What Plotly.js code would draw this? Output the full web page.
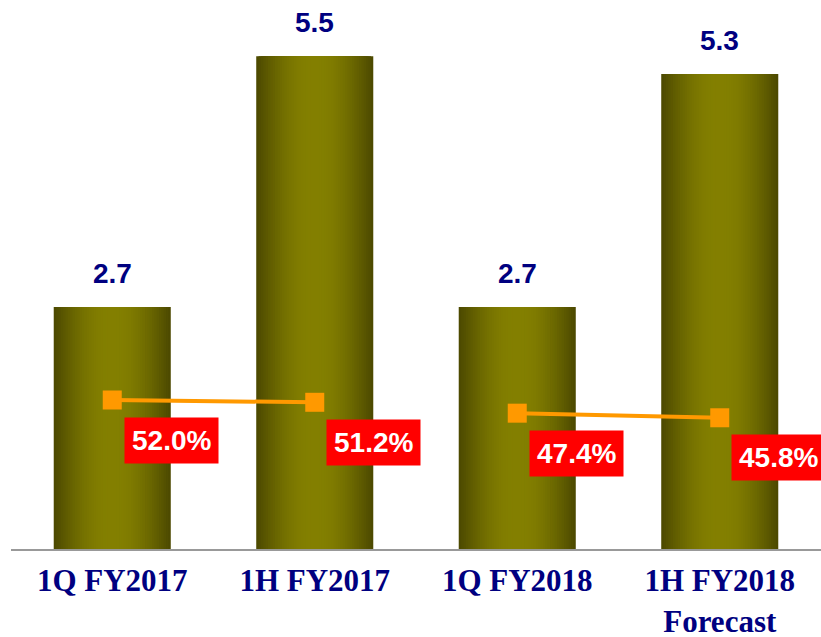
<!DOCTYPE html>
<html><head><meta charset="utf-8">
<script src="https://cdn.plot.ly/plotly-3.0.1.min.js"></script>
<style>html,body{margin:0;padding:0;background:#fff}#c{width:821px;height:637px}</style>
</head><body><div id="c"></div>
<script>
const categories = ["1Q FY2017", "1H FY2017", "1Q FY2018", "1H FY2018<br>Forecast"];
const values = [2.7, 5.5, 2.7, 5.3];
const ratios = [52.0, 51.2, 47.4, 45.8];
const valueLabels = ["2.7", "5.5", "2.7", "5.3"];
const ratioLabels = ["52.0%", "51.2%", "47.4%", "45.8%"];

// cylinder-like shading (style only): overlay bars of decreasing width, lighter toward centre
const fullWidth = 0.578, nLayers = 24;
const dark = [77, 74, 0], light = [131, 127, 0];
const traces = [];
for (let k = 0; k < nLayers; k++) {
  const f = k / (nLayers - 1);
  const w = fullWidth * (1 - f * 0.92);
  const t = Math.sin(f * Math.PI / 2);
  const col = 'rgb(' + dark.map((d, j) => Math.round(d + (light[j] - d) * t)).join(',') + ')';
  traces.push({type: 'bar', x: categories, y: values, width: w,
    marker: {color: col, line: {width: 0}}, hoverinfo: 'skip', showlegend: false});
}
const lineStyle = {color: '#ff9900', width: 4};
const markerStyle = {symbol: 'square', size: 19, color: '#ff9900'};
traces.push({type: 'scatter', mode: 'lines+markers', x: categories.slice(0, 2), y: ratios.slice(0, 2),
  yaxis: 'y2', line: lineStyle, marker: markerStyle, showlegend: false, cliponaxis: false});
traces.push({type: 'scatter', mode: 'lines+markers', x: categories.slice(2, 4), y: ratios.slice(2, 4),
  yaxis: 'y2', line: lineStyle, marker: markerStyle, showlegend: false, cliponaxis: false});

const annotations = [];
categories.forEach((c, i) => {
  annotations.push({x: c, y: values[i], xref: 'x', yref: 'y', text: valueLabels[i], showarrow: false,
    yanchor: 'bottom', yshift: 16,
    font: {family: 'Liberation Sans, Arial, sans-serif', size: 28, color: '#000080', weight: 'bold'}});
  annotations.push({x: c, y: ratios[i], xref: 'x', yref: 'y2', text: ratioLabels[i], showarrow: false,
    xshift: 59, yshift: -40, bgcolor: '#ff0000', borderpad: 7,
    font: {family: 'Liberation Sans, Arial, sans-serif', size: 28, color: '#ffffff', weight: 'bold'}});
});

const layout = {
  width: 821, height: 637,
  margin: {l: 11, r: 0, t: 0, b: 88, pad: 0},
  paper_bgcolor: '#ffffff', plot_bgcolor: '#ffffff',
  barmode: 'overlay',
  xaxis: {type: 'category', range: [-0.5, 3.5], automargin: false,
    showline: true, linecolor: '#999999', linewidth: 2, ticks: '',
    showgrid: false, zeroline: false, ticklabelstandoff: 3,
    tickfont: {family: 'Liberation Serif, Times New Roman, serif', size: 31, color: '#000080', weight: 'bold'}},
  yaxis: {range: [0, 6.127], visible: false, showgrid: false, zeroline: false, automargin: false},
  yaxis2: {range: [0, 191.6], overlaying: 'y', visible: false, showgrid: false, zeroline: false, automargin: false},
  annotations: annotations
};
Plotly.newPlot('c', traces, layout, {staticPlot: true});
</script></body></html>
